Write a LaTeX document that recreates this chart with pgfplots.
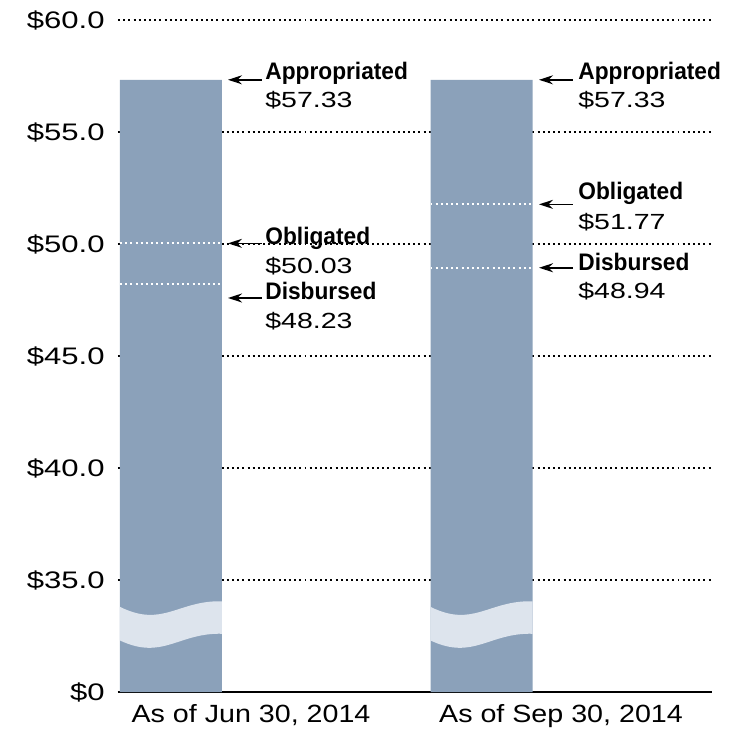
\documentclass[border=0pt]{standalone}
\usepackage{pgfplots}
\pgfplotsset{compat=1.18}
\usepackage{fontspec}
\setmainfont{Liberation Sans}
\newfontfamily\tickfont{Liberation Sans}[FakeStretch=1.3]
\newfontfamily\xfont{Liberation Sans}[FakeStretch=1.15]
\newfontfamily\namefamily{Liberation Sans}[FakeStretch=0.95]
\newcommand\namefont{\namefamily\bfseries\fontsize{12}{14}\selectfont}
\newcommand\valfont{\tickfont\fontsize{11}{13}\selectfont}
\usetikzlibrary{arrows.meta}
\definecolor{barblue}{RGB}{139,161,186}
\definecolor{bandcol}{RGB}{221,228,237}
\tikzset{ann/.style={{Stealth[length=7bp,width=4.5bp]}-, line width=0.8pt}}
\begin{document}
\begin{tikzpicture}
\begin{axis}[
  scale only axis, width=297bp, height=336bp,
  xmin=0, xmax=594, ymin=30, ymax=60,
  clip mode=individual,
  axis x line*=bottom, axis y line*=left,
  y axis line style={draw=none},
  x axis line style={black, line width=1.2pt},
  major tick length=0pt,
  ytick={30,35,40,45,50,55,60},
  yticklabels={\$0,\$35.0,\$40.0,\$45.0,\$50.0,\$55.0,\$60.0},
  xtick={133,443},
  xticklabels={{As of Jun 30, 2014},{As of Sep 30, 2014}},
  yticklabel style={font=\tickfont\fontsize{12}{14}\selectfont, inner sep=0pt, xshift=-6.5bp},
  xticklabel style={font=\xfont\fontsize{12.5}{14}\selectfont, inner sep=0pt, anchor=north, yshift=-6bp},
  ymajorgrids,
  grid style={black, dash pattern=on 1pt off 1.6pt, line width=0.8pt},
]
\coordinate (SW) at (rel axis cs:0,0);
\coordinate (NE) at (rel axis cs:1,1);
% bars
\addplot[ybar, bar width=102, fill=barblue, draw=none] coordinates {(53,57.33) (363.5,57.33)};
% broken-axis bands
\fill[bandcol] (axis cs:2,33.8) .. controls (axis cs:45,32.85) and (axis cs:60,34.1) .. (axis cs:104,34.05)
  -- (axis cs:104,32.6) .. controls (axis cs:60,32.65) and (axis cs:45,31.4) .. (axis cs:2,32.3) -- cycle;
\fill[bandcol] (axis cs:312.5,33.8) .. controls (axis cs:355.5,32.85) and (axis cs:370.5,34.1) .. (axis cs:414.5,34.05)
  -- (axis cs:414.5,32.6) .. controls (axis cs:370.5,32.65) and (axis cs:355.5,31.4) .. (axis cs:312.5,32.3) -- cycle;
% white dotted level lines inside bars
\addplot[white, dash pattern=on 1pt off 1.6pt, line width=0.9pt] coordinates {(2,50.03) (104,50.03)};
\addplot[white, dash pattern=on 1pt off 1.6pt, line width=0.9pt] coordinates {(2,48.23) (104,48.23)};
\addplot[white, dash pattern=on 1pt off 1.6pt, line width=0.9pt] coordinates {(312.5,51.77) (414.5,51.77)};
\addplot[white, dash pattern=on 1pt off 1.6pt, line width=0.9pt] coordinates {(312.5,48.94) (414.5,48.94)};
% annotations bar 1
\draw[ann] (axis cs:110,57.33) -- (axis cs:144,57.33);
\node[anchor=west, inner sep=0pt, font=\namefont] at (axis cs:147,57.63) {Appropriated};
\node[anchor=west, inner sep=0pt, font=\valfont] at (axis cs:147,56.43) {\$57.33};
\draw[ann] (axis cs:110,50.03) -- (axis cs:144,50.03);
\node[anchor=west, inner sep=0pt, font=\namefont] at (axis cs:147,50.27) {Obligated};
\node[anchor=west, inner sep=0pt, font=\valfont] at (axis cs:147,49.02) {\$50.03};
\draw[ann] (axis cs:110,47.59) -- (axis cs:144,47.59);
\node[anchor=west, inner sep=0pt, font=\namefont] at (axis cs:147,47.9) {Disbursed};
\node[anchor=west, inner sep=0pt, font=\valfont] at (axis cs:147,46.56) {\$48.23};
% annotations bar 2
\draw[ann] (axis cs:421,57.33) -- (axis cs:455,57.33);
\node[anchor=west, inner sep=0pt, font=\namefont] at (axis cs:460,57.63) {Appropriated};
\node[anchor=west, inner sep=0pt, font=\valfont] at (axis cs:460,56.43) {\$57.33};
\draw[ann] (axis cs:421,51.77) -- (axis cs:455,51.77);
\node[anchor=west, inner sep=0pt, font=\namefont] at (axis cs:460,52.28) {Obligated};
\node[anchor=west, inner sep=0pt, font=\valfont] at (axis cs:460,50.98) {\$51.77};
\draw[ann] (axis cs:421,48.94) -- (axis cs:455,48.94);
\node[anchor=west, inner sep=0pt, font=\namefont] at (axis cs:460,49.2) {Disbursed};
\node[anchor=west, inner sep=0pt, font=\valfont] at (axis cs:460,47.9) {\$48.94};
\end{axis}
\pgfresetboundingbox
\path[use as bounding box] ([shift={(-59bp,-20bp)}]SW) rectangle ([shift={(9.5bp,10bp)}]NE);
\end{tikzpicture}
\end{document}
